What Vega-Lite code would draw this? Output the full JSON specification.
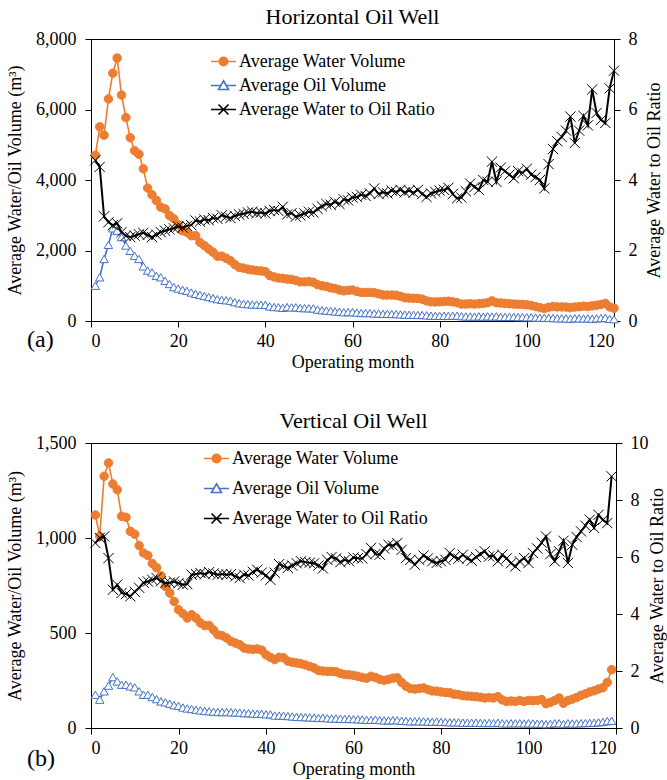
{
  "$schema": "https://vega.github.io/schema/vega-lite/v6.json",
  "padding": {"left": 6, "top": 5, "right": 0, "bottom": 0},
  "spacing": 37,
  "resolve": {"scale": {"color": "independent"}, "legend": {"color": "independent"}},
  "config": {
    "font": "Liberation Serif",
    "view": {"stroke": "#000", "strokeWidth": 1},
    "axis": {"labelFont": "Liberation Serif", "labelFontSize": 18, "titleFont": "Liberation Serif", "titleFontSize": 18, "titleFontWeight": "normal", "labelColor": "#000", "titleColor": "#000", "domainColor": "#000", "tickColor": "#000", "grid": false, "tickSize": 6},
    "title": {"font": "Liberation Serif", "fontSize": 22, "fontWeight": "normal", "color": "#000"}
  },
  "datasets": {
    "a": [
      {"month":1,"water":4700,"oil":1000,"ratio":4.56},{"month":2,"water":5510,"oil":1240,"ratio":4.37},{"month":3,"water":5270,"oil":1760,"ratio":2.97},{"month":4,"water":6300,"oil":2160,"ratio":2.80},{"month":5,"water":7030,"oil":2630,"ratio":2.72},{"month":6,"water":7460,"oil":2560,"ratio":2.77},{"month":7,"water":6410,"oil":2380,"ratio":2.52},{"month":8,"water":5770,"oil":2140,"ratio":2.42},{"month":9,"water":5200,"oil":1990,"ratio":2.38},{"month":10,"water":4830,"oil":1850,"ratio":2.42},
      {"month":11,"water":4730,"oil":1760,"ratio":2.46},{"month":12,"water":4320,"oil":1550,"ratio":2.50},{"month":13,"water":3770,"oil":1430,"ratio":2.44},{"month":14,"water":3580,"oil":1380,"ratio":2.38},{"month":15,"water":3420,"oil":1280,"ratio":2.45},{"month":16,"water":3230,"oil":1240,"ratio":2.52},{"month":17,"water":3180,"oil":1140,"ratio":2.56},{"month":18,"water":2990,"oil":1050,"ratio":2.60},{"month":19,"water":2900,"oil":960,"ratio":2.63},{"month":20,"water":2730,"oil":920,"ratio":2.68},
      {"month":21,"water":2560,"oil":885,"ratio":2.65},{"month":22,"water":2520,"oil":855,"ratio":2.70},{"month":23,"water":2420,"oil":810,"ratio":2.72},{"month":24,"water":2420,"oil":770,"ratio":2.85},{"month":25,"water":2230,"oil":740,"ratio":2.82},{"month":26,"water":2140,"oil":710,"ratio":2.88},{"month":27,"water":2040,"oil":680,"ratio":2.86},{"month":28,"water":1950,"oil":650,"ratio":2.92},{"month":29,"water":1840,"oil":620,"ratio":2.90},{"month":30,"water":1840,"oil":600,"ratio":3.00},
      {"month":31,"water":1780,"oil":590,"ratio":2.96},{"month":32,"water":1710,"oil":575,"ratio":2.92},{"month":33,"water":1600,"oil":535,"ratio":2.98},{"month":34,"water":1520,"oil":505,"ratio":3.02},{"month":35,"water":1500,"oil":490,"ratio":3.04},{"month":36,"water":1470,"oil":477,"ratio":3.08},{"month":37,"water":1450,"oil":468,"ratio":3.10},{"month":38,"water":1430,"oil":467,"ratio":3.06},{"month":39,"water":1420,"oil":461,"ratio":3.08},{"month":40,"water":1400,"oil":459,"ratio":3.05},
      {"month":41,"water":1290,"oil":413,"ratio":3.12},{"month":42,"water":1250,"oil":397,"ratio":3.15},{"month":43,"water":1220,"oil":391,"ratio":3.12},{"month":44,"water":1210,"oil":373,"ratio":3.24},{"month":45,"water":1190,"oil":394,"ratio":3.02},{"month":46,"water":1180,"oil":386,"ratio":3.06},{"month":47,"water":1150,"oil":389,"ratio":2.96},{"month":48,"water":1110,"oil":370,"ratio":3.00},{"month":49,"water":1110,"oil":364,"ratio":3.05},{"month":50,"water":1120,"oil":361,"ratio":3.10},
      {"month":51,"water":1100,"oil":357,"ratio":3.08},{"month":52,"water":1030,"oil":324,"ratio":3.18},{"month":53,"water":1000,"oil":308,"ratio":3.25},{"month":54,"water":980,"oil":295,"ratio":3.32},{"month":55,"water":940,"oil":285,"ratio":3.30},{"month":56,"water":920,"oil":272,"ratio":3.38},{"month":57,"water":880,"oil":265,"ratio":3.32},{"month":58,"water":855,"oil":248,"ratio":3.45},{"month":59,"water":870,"oil":254,"ratio":3.42},{"month":60,"water":880,"oil":251,"ratio":3.50},
      {"month":61,"water":840,"oil":239,"ratio":3.52},{"month":62,"water":810,"oil":226,"ratio":3.58},{"month":63,"water":810,"oil":228,"ratio":3.55},{"month":64,"water":810,"oil":224,"ratio":3.62},{"month":65,"water":800,"oil":213,"ratio":3.76},{"month":66,"water":770,"oil":214,"ratio":3.60},{"month":67,"water":740,"oil":203,"ratio":3.65},{"month":68,"water":735,"oil":203,"ratio":3.62},{"month":69,"water":735,"oil":199,"ratio":3.70},{"month":70,"water":730,"oil":199,"ratio":3.66},
      {"month":71,"water":700,"oil":188,"ratio":3.72},{"month":72,"water":660,"oil":181,"ratio":3.65},{"month":73,"water":650,"oil":176,"ratio":3.70},{"month":74,"water":645,"oil":177,"ratio":3.64},{"month":75,"water":640,"oil":172,"ratio":3.72},{"month":76,"water":620,"oil":172,"ratio":3.60},{"month":77,"water":570,"oil":162,"ratio":3.52},{"month":78,"water":545,"oil":151,"ratio":3.62},{"month":79,"water":540,"oil":148,"ratio":3.66},{"month":80,"water":545,"oil":147,"ratio":3.70},
      {"month":81,"water":555,"oil":149,"ratio":3.72},{"month":82,"water":560,"oil":148,"ratio":3.78},{"month":83,"water":545,"oil":151,"ratio":3.60},{"month":84,"water":520,"oil":149,"ratio":3.48},{"month":85,"water":480,"oil":137,"ratio":3.50},{"month":86,"water":480,"oil":130,"ratio":3.68},{"month":87,"water":490,"oil":126,"ratio":3.90},{"month":88,"water":480,"oil":126,"ratio":3.80},{"month":89,"water":490,"oil":132,"ratio":3.72},{"month":90,"water":500,"oil":125,"ratio":4.00},
      {"month":91,"water":520,"oil":132,"ratio":3.95},{"month":92,"water":570,"oil":126,"ratio":4.52},{"month":93,"water":520,"oil":132,"ratio":3.95},{"month":94,"water":510,"oil":117,"ratio":4.35},{"month":95,"water":500,"oil":118,"ratio":4.25},{"month":96,"water":490,"oil":118,"ratio":4.15},{"month":97,"water":480,"oil":119,"ratio":4.05},{"month":98,"water":475,"oil":112,"ratio":4.25},{"month":99,"water":470,"oil":112,"ratio":4.20},{"month":100,"water":460,"oil":106,"ratio":4.32},
      {"month":101,"water":440,"oil":106,"ratio":4.15},{"month":102,"water":410,"oil":100,"ratio":4.08},{"month":103,"water":380,"oil":95,"ratio":4.00},{"month":104,"water":355,"oil":94,"ratio":3.76},{"month":105,"water":390,"oil":88,"ratio":4.45},{"month":106,"water":410,"oil":84,"ratio":4.88},{"month":107,"water":400,"oil":78,"ratio":5.10},{"month":108,"water":400,"oil":77,"ratio":5.22},{"month":109,"water":395,"oil":73,"ratio":5.40},{"month":110,"water":380,"oil":66,"ratio":5.80},
      {"month":111,"water":395,"oil":78,"ratio":5.05},{"month":112,"water":405,"oil":75,"ratio":5.40},{"month":113,"water":420,"oil":72,"ratio":5.82},{"month":114,"water":410,"oil":74,"ratio":5.55},{"month":115,"water":430,"oil":65,"ratio":6.57},{"month":116,"water":450,"oil":76,"ratio":5.90},{"month":117,"water":470,"oil":82,"ratio":5.70},{"month":118,"water":500,"oil":89,"ratio":5.62},{"month":119,"water":400,"oil":61,"ratio":6.60},{"month":120,"water":365,"oil":51,"ratio":7.10}
    ],
    "b": [
      {"month":1,"water":1121,"oil":175,"ratio":6.49},{"month":2,"water":1009,"oil":149,"ratio":6.67},{"month":3,"water":1325,"oil":193,"ratio":6.72},{"month":4,"water":1395,"oil":223,"ratio":5.96},{"month":5,"water":1284,"oil":268,"ratio":4.85},{"month":6,"water":1254,"oil":245,"ratio":5.03},{"month":7,"water":1114,"oil":228,"ratio":4.74},{"month":8,"water":1109,"oil":228,"ratio":4.70},{"month":9,"water":1035,"oil":219,"ratio":4.62},{"month":10,"water":1020,"oil":214,"ratio":4.78},
      {"month":11,"water":960,"oil":193,"ratio":4.92},{"month":12,"water":921,"oil":175,"ratio":5.10},{"month":13,"water":908,"oil":175,"ratio":5.14},{"month":14,"water":866,"oil":163,"ratio":5.20},{"month":15,"water":844,"oil":152,"ratio":5.26},{"month":16,"water":802,"oil":140,"ratio":5.15},{"month":17,"water":745,"oil":135,"ratio":5.09},{"month":18,"water":710,"oil":128,"ratio":5.10},{"month":19,"water":666,"oil":120,"ratio":5.14},{"month":20,"water":623,"oil":117,"ratio":5.08},
      {"month":21,"water":602,"oil":108,"ratio":5.03},{"month":22,"water":579,"oil":103,"ratio":5.05},{"month":23,"water":596,"oil":100,"ratio":5.38},{"month":24,"water":579,"oil":96,"ratio":5.40},{"month":25,"water":553,"oil":93,"ratio":5.44},{"month":26,"water":539,"oil":90,"ratio":5.40},{"month":27,"water":540,"oil":88,"ratio":5.47},{"month":28,"water":516,"oil":86,"ratio":5.42},{"month":29,"water":491,"oil":84,"ratio":5.38},{"month":30,"water":486,"oil":84,"ratio":5.40},
      {"month":31,"water":474,"oil":84,"ratio":5.38},{"month":32,"water":456,"oil":83,"ratio":5.40},{"month":33,"water":447,"oil":82,"ratio":5.32},{"month":34,"water":438,"oil":81,"ratio":5.26},{"month":35,"water":421,"oil":78,"ratio":5.38},{"month":36,"water":416,"oil":78,"ratio":5.35},{"month":37,"water":414,"oil":76,"ratio":5.48},{"month":38,"water":416,"oil":75,"ratio":5.55},{"month":39,"water":410,"oil":75,"ratio":5.45},{"month":40,"water":385,"oil":72,"ratio":5.36},
      {"month":41,"water":372,"oil":72,"ratio":5.20},{"month":42,"water":360,"oil":66,"ratio":5.45},{"month":43,"water":372,"oil":65,"ratio":5.75},{"month":44,"water":370,"oil":65,"ratio":5.68},{"month":45,"water":352,"oil":63,"ratio":5.62},{"month":46,"water":346,"oil":61,"ratio":5.70},{"month":47,"water":342,"oil":59,"ratio":5.78},{"month":48,"water":338,"oil":58,"ratio":5.85},{"month":49,"water":332,"oil":57,"ratio":5.82},{"month":50,"water":324,"oil":56,"ratio":5.80},
      {"month":51,"water":316,"oil":55,"ratio":5.78},{"month":52,"water":303,"oil":53,"ratio":5.70},{"month":53,"water":300,"oil":54,"ratio":5.60},{"month":54,"water":298,"oil":51,"ratio":5.90},{"month":55,"water":298,"oil":50,"ratio":6.00},{"month":56,"water":296,"oil":50,"ratio":5.95},{"month":57,"water":288,"oil":49,"ratio":5.82},{"month":58,"water":281,"oil":48,"ratio":5.90},{"month":59,"water":280,"oil":48,"ratio":5.85},{"month":60,"water":277,"oil":47,"ratio":5.98},
      {"month":61,"water":272,"oil":46,"ratio":5.96},{"month":62,"water":266,"oil":45,"ratio":5.95},{"month":63,"water":262,"oil":43,"ratio":6.10},{"month":64,"water":272,"oil":43,"ratio":6.32},{"month":65,"water":266,"oil":44,"ratio":6.10},{"month":66,"water":256,"oil":42,"ratio":6.08},{"month":67,"water":251,"oil":40,"ratio":6.30},{"month":68,"water":256,"oil":40,"ratio":6.43},{"month":69,"water":262,"oil":41,"ratio":6.40},{"month":70,"water":264,"oil":41,"ratio":6.49},
      {"month":71,"water":240,"oil":38,"ratio":6.25},{"month":72,"water":220,"oil":37,"ratio":5.96},{"month":73,"water":208,"oil":35,"ratio":5.90},{"month":74,"water":205,"oil":36,"ratio":5.73},{"month":75,"water":208,"oil":35,"ratio":5.90},{"month":76,"water":211,"oil":35,"ratio":6.05},{"month":77,"water":202,"oil":34,"ratio":5.95},{"month":78,"water":195,"oil":33,"ratio":5.85},{"month":79,"water":194,"oil":34,"ratio":5.79},{"month":80,"water":190,"oil":32,"ratio":5.85},
      {"month":81,"water":187,"oil":32,"ratio":5.90},{"month":82,"water":185,"oil":30,"ratio":6.14},{"month":83,"water":178,"oil":30,"ratio":6.00},{"month":84,"water":176,"oil":30,"ratio":5.94},{"month":85,"water":170,"oil":28,"ratio":6.08},{"month":86,"water":168,"oil":28,"ratio":5.95},{"month":87,"water":167,"oil":28,"ratio":5.87},{"month":88,"water":165,"oil":28,"ratio":6.00},{"month":89,"water":162,"oil":27,"ratio":6.10},{"month":90,"water":158,"oil":26,"ratio":6.20},
      {"month":91,"water":160,"oil":27,"ratio":6.02},{"month":92,"water":158,"oil":26,"ratio":6.05},{"month":93,"water":165,"oil":28,"ratio":5.85},{"month":94,"water":148,"oil":25,"ratio":6.08},{"month":95,"water":140,"oil":24,"ratio":5.95},{"month":96,"water":142,"oil":25,"ratio":5.78},{"month":97,"water":140,"oil":25,"ratio":5.67},{"month":98,"water":145,"oil":25,"ratio":5.85},{"month":99,"water":140,"oil":24,"ratio":5.96},{"month":100,"water":145,"oil":25,"ratio":5.79},
      {"month":101,"water":144,"oil":24,"ratio":6.14},{"month":102,"water":145,"oil":23,"ratio":6.30},{"month":103,"water":150,"oil":23,"ratio":6.50},{"month":104,"water":128,"oil":20,"ratio":6.72},{"month":105,"water":135,"oil":22,"ratio":6.10},{"month":106,"water":145,"oil":25,"ratio":5.85},{"month":107,"water":158,"oil":25,"ratio":6.20},{"month":108,"water":130,"oil":21,"ratio":6.57},{"month":109,"water":145,"oil":25,"ratio":5.79},{"month":110,"water":152,"oil":24,"ratio":6.43},
      {"month":111,"water":160,"oil":24,"ratio":6.70},{"month":112,"water":172,"oil":25,"ratio":6.90},{"month":113,"water":180,"oil":26,"ratio":7.10},{"month":114,"water":190,"oil":27,"ratio":7.31},{"month":115,"water":196,"oil":28,"ratio":7.02},{"month":116,"water":205,"oil":30,"ratio":7.48},{"month":117,"water":212,"oil":32,"ratio":7.30},{"month":118,"water":240,"oil":36,"ratio":7.19},{"month":119,"water":307,"oil":38,"ratio":8.83}
    ]
  },
  "vconcat": [
    {
      "title": {"text": "(a)", "orient": "bottom", "anchor": "start", "frame": "bounds", "fontSize": 24, "offset": -44, "dx": 21},
      "vconcat": [
        {
          "title": {"text": "Horizontal Oil Well", "offset": 1},
          "width": 523,
          "height": 282,
          "view": {"stroke": "#000", "strokeWidth": 1},
          "data": {"name": "a"},
          "layer": [
            {
              "transform": [{"fold": ["water", "oil"], "as": ["series", "value"]}],
              "layer": [
                {
                  "mark": {"type": "line", "strokeWidth": 1.6},
                  "encoding": {
                    "x": {"field": "month", "type": "quantitative", "scale": {"domain": [0, 120], "nice": false}, "axis": {"values": [0, 20, 40, 60, 80, 100, 120], "title": "Operating month", "labelPadding": 5, "titlePadding": 3}},
                    "y": {"field": "value", "type": "quantitative", "scale": {"domain": [0, 8000], "nice": false}, "axis": {"values": [0, 2000, 4000, 6000, 8000], "format": ",.0f", "title": "Average Water/Oil Volume (m³)", "labelPadding": 9, "titlePadding": 11}},
                    "color": {
                      "field": "series", "type": "nominal",
                      "scale": {"domain": ["water", "oil", "ratio"], "range": ["#ED7D31", "#4472C4", "#000000"]},
                      "legend": {
                        "orient": "none", "legendX": 119, "legendY": 9, "title": null, "padding": 0,
                        "labelFont": "Liberation Serif", "labelFontSize": 18, "labelColor": "#000", "labelOffset": 2, "labelLimit": 400, "rowPadding": 1,
                        "symbolSize": 625, "symbolStrokeWidth": 1.6,
                        "labelExpr": "datum.value == 'water' ? 'Average Water Volume' : datum.value == 'oil' ? 'Average Oil Volume' : 'Average Water to Oil Ratio'",
                        "encode": {"symbols": {"update": {
                          "shape": {"signal": "datum.value == 'water' ? 'M-1,0H1M0.34,0A0.34,0.34,0,1,1,-0.34,0A0.34,0.34,0,1,1,0.34,0Z' : datum.value == 'oil' ? 'M-1,0H-0.2M0.2,0H1M0,-0.38L0.4,0.32L-0.4,0.32Z' : 'M-1,0H1M-0.4,-0.4L0.4,0.4M-0.4,0.4L0.4,-0.4'"},
                          "fill": {"signal": "datum.value == 'water' ? '#ED7D31' : datum.value == 'oil' ? '#FFFFFF' : 'transparent'"},
                          "opacity": {"value": 1}
                        }}}
                      }
                    }
                  }
                },
                {
                  "mark": {"type": "point", "filled": false, "strokeWidth": 1, "size": 72, "opacity": 1},
                  "encoding": {
                    "x": {"field": "month", "type": "quantitative"},
                    "y": {"field": "value", "type": "quantitative"},
                    "stroke": {"field": "series", "type": "nominal", "scale": {"domain": ["water", "oil"], "range": ["#ED7D31", "#4472C4"]}, "legend": null},
                    "fill": {"field": "series", "type": "nominal", "scale": {"domain": ["water", "oil"], "range": ["#ED7D31", "#FFFFFF"]}, "legend": null},
                    "shape": {"field": "series", "type": "nominal", "scale": {"domain": ["water", "oil"], "range": ["circle", "triangle-up"]}, "legend": null}
                  }
                }
              ]
            },
            {
              "transform": [{"fold": ["ratio"], "as": ["series", "value"]}],
              "layer": [
                {
                  "mark": {"type": "line", "strokeWidth": 2},
                  "encoding": {
                    "x": {"field": "month", "type": "quantitative"},
                    "y": {"field": "value", "type": "quantitative", "scale": {"domain": [0, 8], "nice": false}, "axis": {"orient": "right", "values": [0, 2, 4, 6, 8], "title": "Average Water to Oil Ratio", "titleAngle": 270, "titleBaseline": "top", "labelPadding": 8, "titlePadding": 8}},
                    "color": {"field": "series", "type": "nominal"}
                  }
                },
                {
                  "mark": {"type": "point", "shape": "M-1,-1L1,1M-1,1L1,-1", "size": 105, "stroke": "#000", "strokeWidth": 1, "filled": false, "opacity": 1},
                  "encoding": {
                    "x": {"field": "month", "type": "quantitative"},
                    "y": {"field": "value", "type": "quantitative"}
                  }
                }
              ]
            }
          ],
          "resolve": {"scale": {"y": "independent"}}
        }
      ]
    },
    {
      "title": {"text": "(b)", "orient": "bottom", "anchor": "start", "frame": "bounds", "fontSize": 24, "offset": -32, "dx": 21},
      "vconcat": [
        {
          "title": {"text": "Vertical Oil Well", "offset": 1},
          "width": 525,
          "height": 285,
          "view": {"stroke": "#000", "strokeWidth": 1},
          "data": {"name": "b"},
          "layer": [
            {
              "transform": [{"fold": ["water", "oil"], "as": ["series", "value"]}],
              "layer": [
                {
                  "mark": {"type": "line", "strokeWidth": 1.6},
                  "encoding": {
                    "x": {"field": "month", "type": "quantitative", "scale": {"domain": [0, 120], "nice": false}, "axis": {"values": [0, 20, 40, 60, 80, 100, 120], "title": "Operating month", "labelPadding": 5, "titlePadding": 3}},
                    "y": {"field": "value", "type": "quantitative", "scale": {"domain": [0, 1500], "nice": false}, "axis": {"values": [0, 500, 1000, 1500], "format": ",.0f", "title": "Average Water/Oil Volume (m³)", "labelPadding": 9, "titlePadding": 11}},
                    "color": {
                      "field": "series", "type": "nominal",
                      "scale": {"domain": ["water", "oil", "ratio"], "range": ["#ED7D31", "#4472C4", "#000000"]},
                      "legend": {
                        "orient": "none", "legendX": 112, "legendY": 2, "title": null, "padding": 0,
                        "labelFont": "Liberation Serif", "labelFontSize": 18, "labelColor": "#000", "labelOffset": 2, "labelLimit": 400, "rowPadding": 7,
                        "symbolSize": 625, "symbolStrokeWidth": 1.6,
                        "labelExpr": "datum.value == 'water' ? 'Average Water Volume' : datum.value == 'oil' ? 'Average Oil Volume' : 'Average Water to Oil Ratio'",
                        "encode": {"symbols": {"update": {
                          "shape": {"signal": "datum.value == 'water' ? 'M-1,0H1M0.34,0A0.34,0.34,0,1,1,-0.34,0A0.34,0.34,0,1,1,0.34,0Z' : datum.value == 'oil' ? 'M-1,0H-0.2M0.2,0H1M0,-0.38L0.4,0.32L-0.4,0.32Z' : 'M-1,0H1M-0.4,-0.4L0.4,0.4M-0.4,0.4L0.4,-0.4'"},
                          "fill": {"signal": "datum.value == 'water' ? '#ED7D31' : datum.value == 'oil' ? '#FFFFFF' : 'transparent'"},
                          "opacity": {"value": 1}
                        }}}
                      }
                    }
                  }
                },
                {
                  "mark": {"type": "point", "filled": false, "strokeWidth": 1, "size": 72, "opacity": 1},
                  "encoding": {
                    "x": {"field": "month", "type": "quantitative"},
                    "y": {"field": "value", "type": "quantitative"},
                    "stroke": {"field": "series", "type": "nominal", "scale": {"domain": ["water", "oil"], "range": ["#ED7D31", "#4472C4"]}, "legend": null},
                    "fill": {"field": "series", "type": "nominal", "scale": {"domain": ["water", "oil"], "range": ["#ED7D31", "#FFFFFF"]}, "legend": null},
                    "shape": {"field": "series", "type": "nominal", "scale": {"domain": ["water", "oil"], "range": ["circle", "triangle-up"]}, "legend": null}
                  }
                }
              ]
            },
            {
              "transform": [{"fold": ["ratio"], "as": ["series", "value"]}],
              "layer": [
                {
                  "mark": {"type": "line", "strokeWidth": 2},
                  "encoding": {
                    "x": {"field": "month", "type": "quantitative"},
                    "y": {"field": "value", "type": "quantitative", "scale": {"domain": [0, 10], "nice": false}, "axis": {"orient": "right", "values": [0, 2, 4, 6, 8, 10], "title": "Average Water to Oil Ratio", "titleAngle": 270, "titleBaseline": "top", "labelPadding": 8, "titlePadding": 0}},
                    "color": {"field": "series", "type": "nominal"}
                  }
                },
                {
                  "mark": {"type": "point", "shape": "M-1,-1L1,1M-1,1L1,-1", "size": 105, "stroke": "#000", "strokeWidth": 1, "filled": false, "opacity": 1},
                  "encoding": {
                    "x": {"field": "month", "type": "quantitative"},
                    "y": {"field": "value", "type": "quantitative"}
                  }
                }
              ]
            }
          ],
          "resolve": {"scale": {"y": "independent"}}
        }
      ]
    }
  ]
}
